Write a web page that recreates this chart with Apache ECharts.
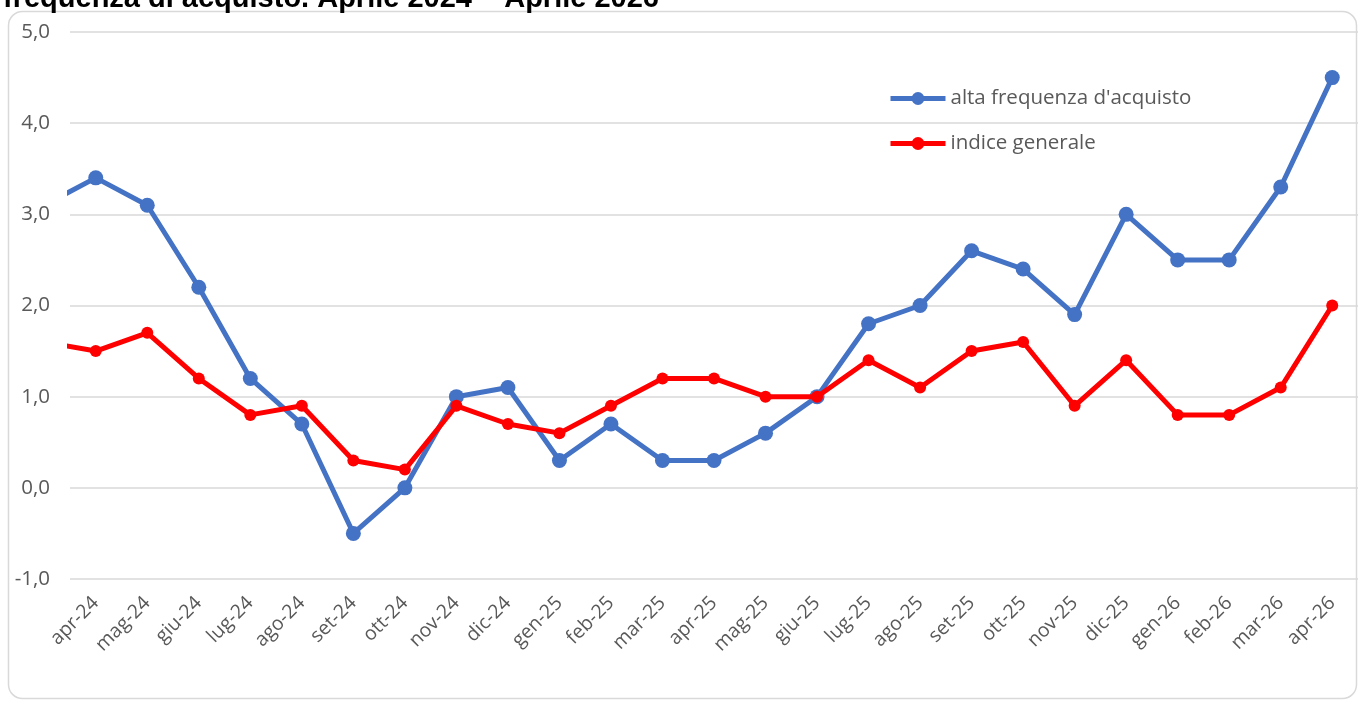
<!DOCTYPE html>
<html>
<head>
<meta charset="utf-8">
<script src="https://cdn.jsdelivr.net/npm/echarts@6/dist/echarts.min.js"></script>
<style>
html,body{margin:0;padding:0;background:#fff;}
#chart{width:1359px;height:702px;}
</style>
</head>
<body>
<div id="chart"></div>
<script>
// Categories (first one, mar-24, lies just outside the visible axis range)
const categories = ['mar-24','apr-24','mag-24','giu-24','lug-24','ago-24','set-24','ott-24','nov-24','dic-24',
  'gen-25','feb-25','mar-25','apr-25','mag-25','giu-25','lug-25','ago-25','set-25','ott-25','nov-25','dic-25',
  'gen-26','feb-26','mar-26','apr-26'];
const altaFrequenza = [3.1,3.4,3.1,2.2,1.2,0.7,-0.5,0.0,1.0,1.1,0.3,0.7,0.3,0.3,0.6,1.0,1.8,2.0,2.6,2.4,1.9,3.0,2.5,2.5,3.3,4.5];
const indiceGenerale = [1.6,1.5,1.7,1.2,0.8,0.9,0.3,0.2,0.9,0.7,0.6,0.9,1.2,1.2,1.0,1.0,1.4,1.1,1.5,1.6,0.9,1.4,0.8,0.8,1.1,2.0];
const seriesNames = ["alta frequenza d'acquisto", 'indice generale'];
const titleText = 'frequenza di acquisto. Aprile 2024 \u2013 Aprile 2026';

const FONT = 'Open Sans';
const chart = echarts.init(document.getElementById('chart'));
chart.setOption({
  animation: false,
  backgroundColor: '#ffffff',
  graphic: [
    {type: 'rect', shape: {x: 8.5, y: 11.5, width: 1348, height: 687, r: 14},
     style: {fill: 'none', stroke: '#D9D9D9', lineWidth: 1.5}, z: 0},
    {type: 'text', left: 3, top: -16,
     style: {text: titleText, font: "bold 29px 'Liberation Sans', sans-serif", fill: '#000'}}
  ],
  legend: {
    orient: 'vertical', left: 883, top: 83, itemGap: 24,
    itemWidth: 55, itemHeight: 16,
    textStyle: {fontFamily: FONT, fontSize: 20.5, color: '#595959'},
    data: [
      {name: seriesNames[0], lineStyle: {width: 5}},
      {name: seriesNames[1], lineStyle: {width: 5}}
    ]
  },
  grid: {left: 70, right: 1, top: 32, bottom: 123},
  xAxis: {
    type: 'category', data: categories, min: 1, boundaryGap: true,
    axisLine: {show: false}, axisTick: {show: false},
    axisLabel: {rotate: 45, interval: 0, margin: 21, fontFamily: FONT, fontSize: 19.5, color: '#595959'}
  },
  yAxis: {
    type: 'value', min: -1, max: 5, interval: 1,
    axisLine: {show: false}, axisTick: {show: false},
    splitLine: {lineStyle: {color: '#D9D9D9', width: 1.5}},
    axisLabel: {align: 'right', margin: 20, fontFamily: FONT, fontSize: 20.5, color: '#595959',
      formatter: v => v.toFixed(1).replace('.', ',')}
  },
  series: [
    {name: seriesNames[0], type: 'line', data: altaFrequenza, clip: true,
     symbol: 'circle', symbolSize: 15, color: '#4472C4',
     lineStyle: {width: 5, color: '#4472C4'}, itemStyle: {color: '#4472C4'}, z: 3},
    {name: seriesNames[1], type: 'line', data: indiceGenerale, clip: true,
     symbol: 'circle', symbolSize: 12, color: '#FF0000',
     lineStyle: {width: 5, color: '#FF0000'}, itemStyle: {color: '#FF0000'}, z: 4}
  ]
});
</script>
</body>
</html>
